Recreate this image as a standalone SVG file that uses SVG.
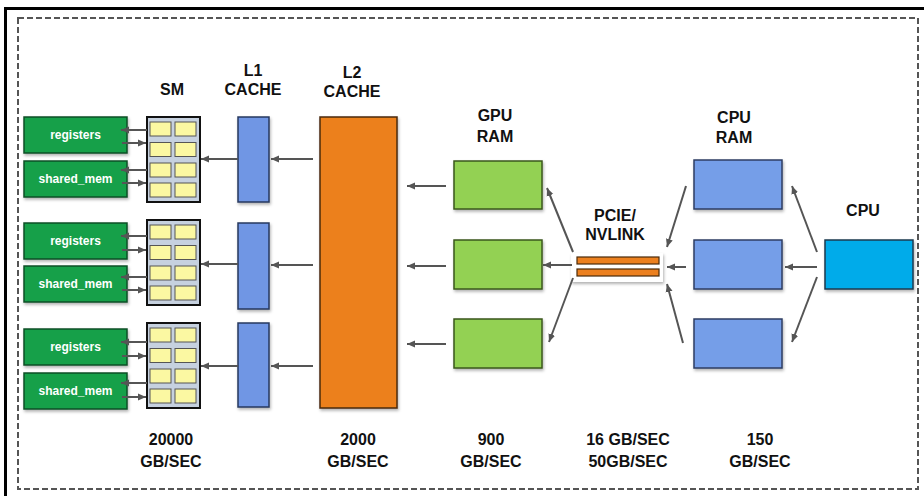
<svg xmlns="http://www.w3.org/2000/svg" width="924" height="496" viewBox="0 0 924 496">
  <style>
    .lbl { font-family: "Liberation Sans", Arial, sans-serif; font-weight: bold; font-size: 16px; fill: #111; text-anchor: middle; }
    .inner { font-family: "Liberation Sans", Arial, sans-serif; font-weight: bold; font-size: 12px; fill: #fff; text-anchor: middle; }
    .reg { fill: #13a04a; stroke: #0f4f26; stroke-width: 1.5; }
    .sm { fill: #c6d1df; stroke: #111; stroke-width: 2; }
    .cell { fill: #fbf8a2; stroke: #555; stroke-width: 1; }
    .l1 { fill: #6f96e4; stroke: #27395f; stroke-width: 1.5; }
    .l2 { fill: #ec801f; stroke: #4a2a0a; stroke-width: 1.5; }
    .gram { fill: #93d152; stroke: #3b571c; stroke-width: 1.5; }
    .cram { fill: #749ee8; stroke: #2e3d63; stroke-width: 1.5; }
    .cpu { fill: #00abea; stroke: #1b3a4f; stroke-width: 1.5; }
    .bar { fill: #ec801f; stroke: #4a2a0a; stroke-width: 1.2; }
    .conn line { stroke: #555; stroke-width: 2; marker-end: url(#head); }
    .shadow { filter: url(#drop); }
  </style>
  <defs>
    <marker id="head" markerUnits="userSpaceOnUse" markerWidth="9" markerHeight="8" refX="8" refY="4" orient="auto">
      <path d="M0,0.5 L8,4 L0,7.5 z" fill="#555"/>
    </marker>
    <filter id="drop" x="-20%" y="-20%" width="140%" height="140%">
      <feDropShadow dx="1" dy="2" stdDeviation="1.5" flood-color="#000" flood-opacity="0.3"/>
    </filter>
    <g id="cells">
      <rect class="cell" x="3" y="5" width="21" height="14"/>
      <rect class="cell" x="28" y="5" width="21" height="14"/>
      <rect class="cell" x="3" y="25.5" width="21" height="14"/>
      <rect class="cell" x="28" y="25.5" width="21" height="14"/>
      <rect class="cell" x="3" y="46" width="21" height="14"/>
      <rect class="cell" x="28" y="46" width="21" height="14"/>
      <rect class="cell" x="3" y="66" width="21" height="14"/>
      <rect class="cell" x="28" y="66" width="21" height="14"/>
    </g>
  </defs>

  <!-- frame -->
  <rect x="0" y="0" width="924" height="496" fill="#fff"/>
  <path d="M5.5,500 L5.5,8.5 L930,8.5" fill="none" stroke="#000" stroke-width="3"/>
  <rect x="18" y="18" width="900" height="471" fill="none" stroke="#555" stroke-width="2" stroke-dasharray="6 3"/>

  <!-- column headings -->
  <g id="headings">
    <text class="lbl" x="172" y="95">SM</text>
    <text class="lbl" x="253" y="76">L1</text>
    <text class="lbl" x="253" y="95">CACHE</text>
    <text class="lbl" x="352" y="78">L2</text>
    <text class="lbl" x="352" y="97">CACHE</text>
    <text class="lbl" x="495" y="121">GPU</text>
    <text class="lbl" x="495" y="142">RAM</text>
    <text class="lbl" x="615" y="221">PCIE/</text>
    <text class="lbl" x="615" y="240">NVLINK</text>
    <text class="lbl" x="734" y="123">CPU</text>
    <text class="lbl" x="734" y="143">RAM</text>
    <text class="lbl" x="863" y="216">CPU</text>
  </g>

  <!-- bandwidth figures -->
  <g id="bandwidth">
    <text class="lbl" x="171" y="445">20000</text>
    <text class="lbl" x="171" y="467">GB/SEC</text>
    <text class="lbl" x="358" y="445">2000</text>
    <text class="lbl" x="358" y="467">GB/SEC</text>
    <text class="lbl" x="491" y="445">900</text>
    <text class="lbl" x="491" y="467">GB/SEC</text>
    <text class="lbl" x="628" y="445">16 GB/SEC</text>
    <text class="lbl" x="628" y="467">50GB/SEC</text>
    <text class="lbl" x="760" y="445">150</text>
    <text class="lbl" x="760" y="467">GB/SEC</text>
  </g>

  <!-- streaming multiprocessor 1 -->
  <g id="regs1">
    <rect class="reg shadow" x="24" y="117" width="103" height="36"/>
    <text class="inner" x="75.5" y="139">registers</text>
  </g>
  <g id="shmem1">
    <rect class="reg shadow" x="24" y="161" width="103" height="36"/>
    <text class="inner" x="75.5" y="183">shared_mem</text>
  </g>
  <g id="sm1">
    <rect class="sm" x="147" y="117" width="53" height="85"/>
    <use href="#cells" x="147" y="117"/>
  </g>
  <g id="l1_1"><rect class="l1 shadow" x="238" y="117" width="31" height="85"/></g>

  <!-- streaming multiprocessor 2 -->
  <g id="regs2">
    <rect class="reg shadow" x="24" y="223" width="103" height="36"/>
    <text class="inner" x="75.5" y="245">registers</text>
  </g>
  <g id="shmem2">
    <rect class="reg shadow" x="24" y="266" width="103" height="36"/>
    <text class="inner" x="75.5" y="288">shared_mem</text>
  </g>
  <g id="sm2">
    <rect class="sm" x="147" y="220" width="53" height="85"/>
    <use href="#cells" x="147" y="220"/>
  </g>
  <g id="l1_2"><rect class="l1 shadow" x="238" y="223" width="31" height="86"/></g>

  <!-- streaming multiprocessor 3 -->
  <g id="regs3">
    <rect class="reg shadow" x="24" y="329" width="103" height="36"/>
    <text class="inner" x="75.5" y="351">registers</text>
  </g>
  <g id="shmem3">
    <rect class="reg shadow" x="24" y="373" width="103" height="36"/>
    <text class="inner" x="75.5" y="395">shared_mem</text>
  </g>
  <g id="sm3">
    <rect class="sm" x="147" y="323" width="53" height="85"/>
    <use href="#cells" x="147" y="323"/>
  </g>
  <g id="l1_3"><rect class="l1 shadow" x="238" y="323" width="31" height="84"/></g>

  <!-- shared L2 -->
  <g id="l2"><rect class="l2 shadow" x="320" y="117" width="77" height="291"/></g>

  <!-- GPU memory -->
  <g id="gpuram1"><rect class="gram shadow" x="454" y="161" width="88" height="48"/></g>
  <g id="gpuram2"><rect class="gram shadow" x="454" y="240" width="88" height="49"/></g>
  <g id="gpuram3"><rect class="gram shadow" x="454" y="319" width="88" height="49"/></g>

  <!-- interconnect -->
  <g id="pcie">
    <rect class="shadow" x="571" y="253" width="92" height="29" fill="#fff"/>
    <rect class="bar" x="577" y="257" width="82" height="7"/>
    <rect class="bar" x="577" y="269" width="82" height="7"/>
  </g>

  <!-- host memory -->
  <g id="cpuram1"><rect class="cram shadow" x="694" y="160" width="88" height="49"/></g>
  <g id="cpuram2"><rect class="cram shadow" x="694" y="240" width="88" height="49"/></g>
  <g id="cpuram3"><rect class="cram shadow" x="694" y="319" width="88" height="49"/></g>

  <!-- host processor -->
  <g id="cpu"><rect class="cpu shadow" x="825" y="240" width="88" height="49"/></g>

  <!-- data paths -->
  <g class="conn" id="connectors">
    <!-- SM 1 -->
    <line x1="147" y1="130" x2="121" y2="130"/>
    <line x1="122" y1="143" x2="146" y2="143"/>
    <line x1="147" y1="170" x2="121" y2="170"/>
    <line x1="122" y1="183" x2="146" y2="183"/>
    <line x1="238" y1="159" x2="201" y2="159"/>
    <line x1="313" y1="159" x2="271" y2="159"/>
    <!-- SM 2 -->
    <line x1="147" y1="236" x2="121" y2="236"/>
    <line x1="122" y1="250" x2="146" y2="250"/>
    <line x1="147" y1="277" x2="121" y2="277"/>
    <line x1="122" y1="290" x2="146" y2="290"/>
    <line x1="238" y1="264" x2="201" y2="264"/>
    <line x1="313" y1="265" x2="271" y2="265"/>
    <!-- SM 3 -->
    <line x1="147" y1="342" x2="121" y2="342"/>
    <line x1="122" y1="356" x2="146" y2="356"/>
    <line x1="147" y1="383" x2="121" y2="383"/>
    <line x1="122" y1="397" x2="146" y2="397"/>
    <line x1="238" y1="366" x2="201" y2="366"/>
    <line x1="313" y1="366" x2="271" y2="366"/>
    <!-- GPU RAM to L2 -->
    <line x1="446" y1="186" x2="407" y2="186"/>
    <line x1="446" y1="266" x2="407" y2="266"/>
    <line x1="446" y1="344" x2="407" y2="344"/>
    <!-- interconnect to GPU RAM -->
    <line x1="573" y1="252" x2="547" y2="188"/>
    <line x1="572" y1="265" x2="543" y2="265"/>
    <line x1="573" y1="278" x2="549" y2="342"/>
    <!-- CPU RAM to interconnect -->
    <line x1="686" y1="186" x2="667" y2="247"/>
    <line x1="686" y1="267" x2="667" y2="267"/>
    <line x1="683" y1="343" x2="667" y2="284"/>
    <!-- CPU to CPU RAM -->
    <line x1="817" y1="252" x2="792" y2="186"/>
    <line x1="817" y1="267" x2="785" y2="267"/>
    <line x1="817" y1="277" x2="792" y2="342"/>
  </g>
</svg>
